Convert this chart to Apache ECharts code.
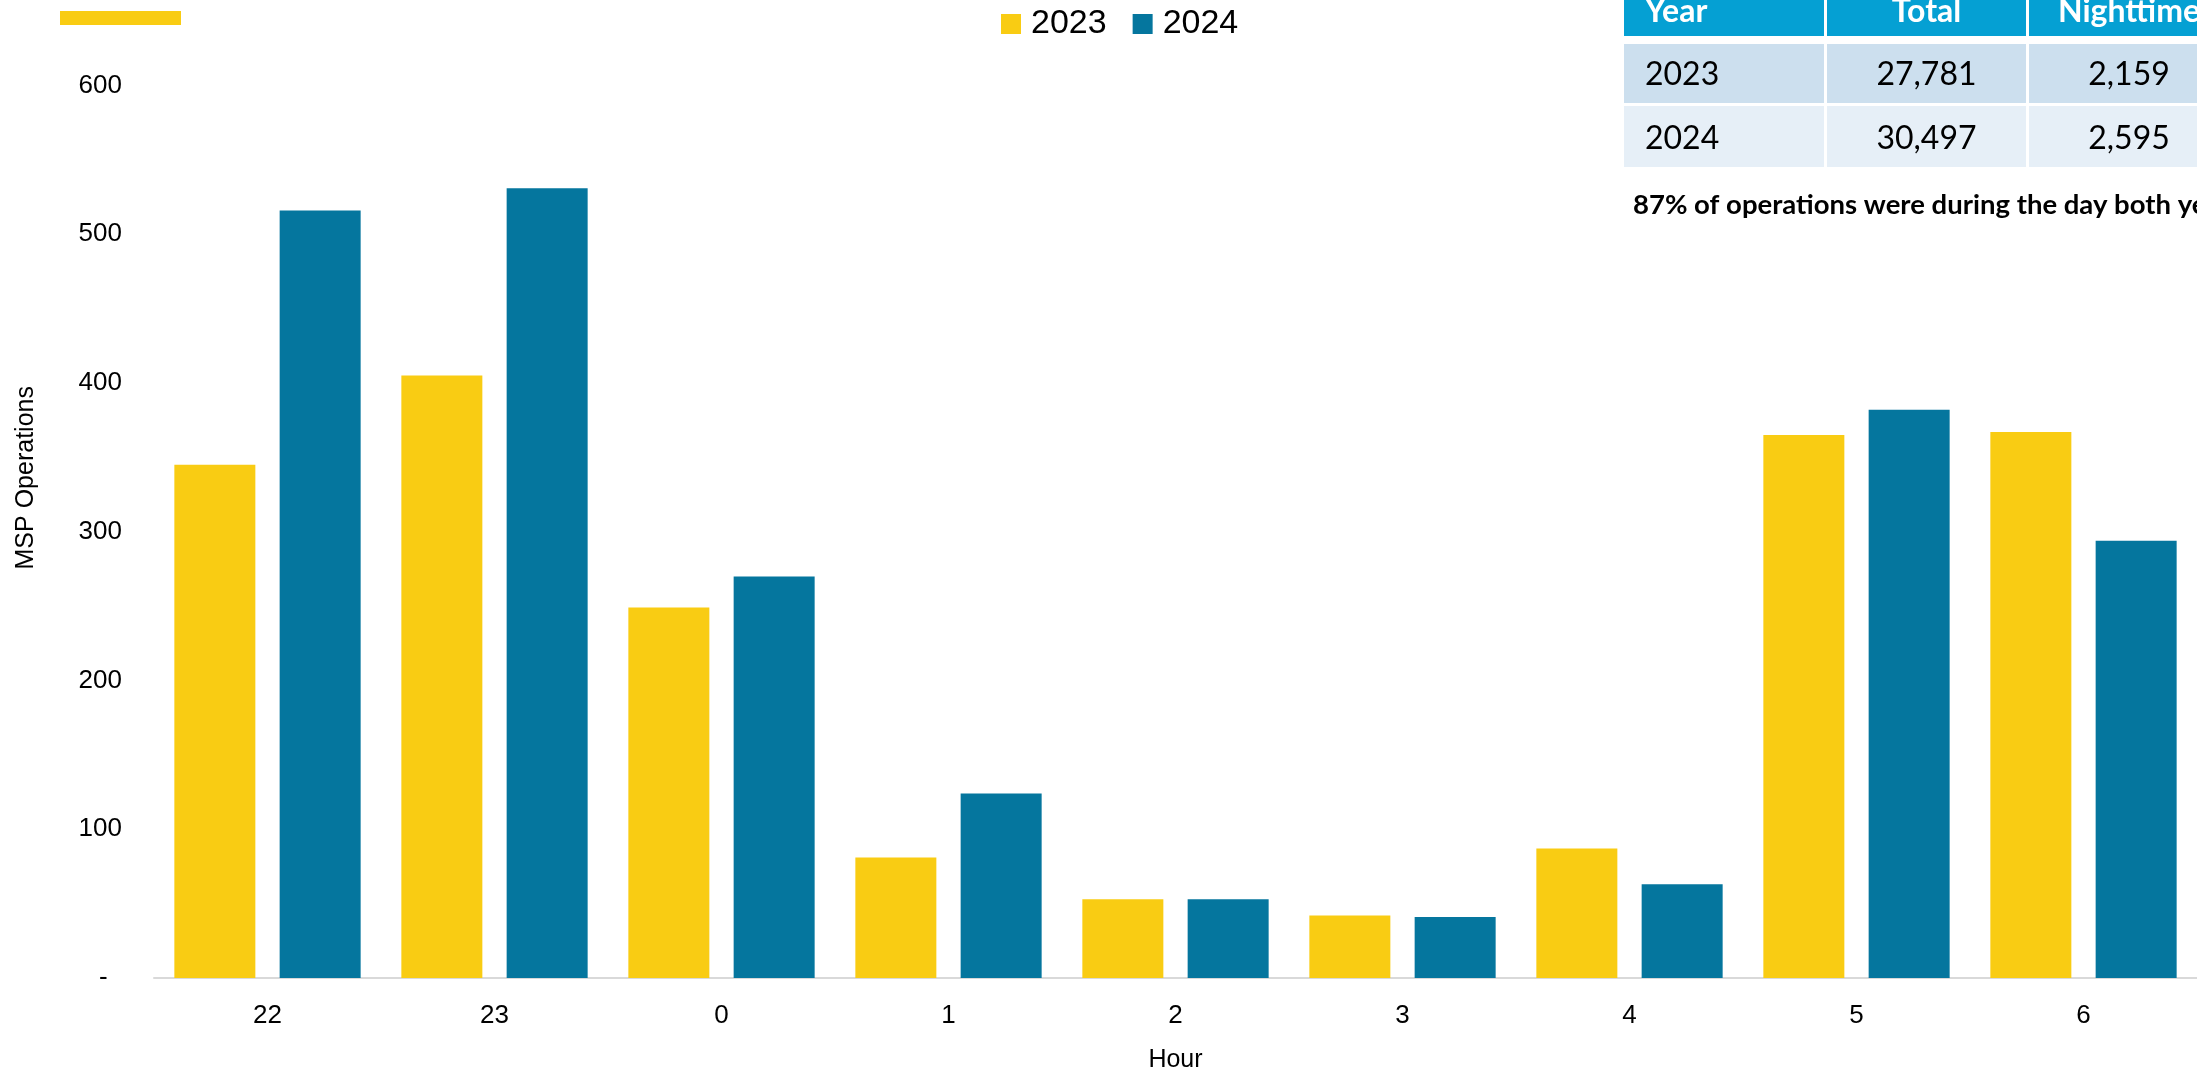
<!DOCTYPE html>
<html>
<head>
<meta charset="utf-8">
<script src="https://cdn.jsdelivr.net/npm/echarts@6/dist/echarts.min.js"></script>
<style>
html,body{margin:0;padding:0;background:#fff;overflow:hidden;}
#chart{width:2197px;height:1078px;}
</style>
</head>
<body>
<div id="chart"></div>
<script>
// ---- data ----
const hours = ['22', '23', '0', '1', '2', '3', '4', '5', '6'];
const ops2023 = [345, 405, 249, 81, 53, 42, 87, 365, 367];
const ops2024 = [516, 531, 270, 124, 53, 41, 63, 382, 294];
const seriesNames = ['2023', '2024'];
const yTicks = [0, 100, 200, 300, 400, 500, 600];
const tableHeader = ['Year', 'Total', 'Nighttime'];
const tableRows = [
  ['2023', '27,781', '2,159'],
  ['2024', '30,497', '2,595']
];
const noteText = '87% of operations were during the day both years.';

// ---- style ----
const YELLOW = '#F9CC13';
const BLUE = '#05769E';
const FONT = '"Liberation Sans", Arial, sans-serif';
const TFONT = 'Lato, "Open Sans", sans-serif';

const chart = echarts.init(document.getElementById('chart'), null, {renderer: 'canvas'});

// table graphics
const colX = [1624, 1827, 2029];
const colW = [200, 199, 200];
const rowY = [-23, 44, 106];
const rowH = [59, 59, 61];
const rowFill = ['#05A0D3', '#CCDFEE', '#E6EFF7'];
const textY = [12, 75, 138.5];
const graphics = [];
graphics.push({type: 'rect', left: 60, top: 11, shape: {width: 121, height: 14}, style: {fill: YELLOW}, silent: true});
const allRows = [tableHeader].concat(tableRows);
allRows.forEach((row, r) => {
  row.forEach((cell, c) => {
    graphics.push({
      type: 'rect', x: colX[c], y: rowY[r],
      shape: {x: 0, y: 0, width: colW[c], height: rowH[r]},
      style: {fill: rowFill[r]}, silent: true, z: 1
    });
    const isFirst = c === 0;
    graphics.push({
      type: 'text', x: isFirst ? colX[c] + 21 : colX[c] + colW[c] / 2, y: textY[r],
      style: {
        text: cell,
        fill: r === 0 ? '#ffffff' : '#000000',
        font: (r === 0 ? 'bold ' : '') + '32px ' + TFONT,
        textAlign: isFirst ? 'left' : 'center',
        textVerticalAlign: 'middle'
      }, silent: true, z: 2
    });
  });
});
graphics.push({
  type: 'text', x: 1633, y: 205,
  style: {text: noteText, fill: '#000', font: 'bold 27.5px ' + TFONT, textAlign: 'left', textVerticalAlign: 'middle'},
  silent: true, z: 2
});

const option = {
  animation: false,
  backgroundColor: '#ffffff',
  textStyle: {fontFamily: FONT},
  legend: {
    data: seriesNames,
    left: 1001, top: 7, padding: 0,
    itemWidth: 20, itemHeight: 20, itemGap: 26,
    icon: 'rect',
    textStyle: {fontSize: 34, color: '#000', fontFamily: FONT, padding: [0, 0, 0, 5]}
  },
  grid: {left: 154, top: 85.5, width: 2047.5, height: 896, containLabel: false},
  xAxis: {
    type: 'category',
    data: hours,
    name: 'Hour',
    nameLocation: 'middle',
    nameGap: 70,
    nameTextStyle: {fontSize: 25, color: '#000', fontFamily: FONT},
    axisLine: {show: true, lineStyle: {color: '#D9D9D9', width: 2}},
    axisTick: {show: false},
    axisLabel: {fontSize: 26, color: '#000', margin: 25, fontFamily: FONT}
  },
  yAxis: {
    type: 'value',
    min: yTicks[0], max: yTicks[yTicks.length - 1], interval: yTicks[1] - yTicks[0],
    name: 'MSP Operations',
    nameLocation: 'middle',
    nameGap: 115,
    nameTextStyle: {fontSize: 25, color: '#000', fontFamily: FONT, padding: [0, 0, 0, 108]},
    axisLine: {show: false},
    axisTick: {show: false},
    splitLine: {show: false},
    axisLabel: {
      fontSize: 26, color: '#000', margin: 32, fontFamily: FONT,
      formatter: v => v === 0 ? '-  ' : String(v)
    }
  },
  series: [
    {name: seriesNames[0], type: 'bar', data: ops2023, barWidth: 81, barGap: '30%', itemStyle: {color: YELLOW}},
    {name: seriesNames[1], type: 'bar', data: ops2024, barWidth: 81, barGap: '30%', itemStyle: {color: BLUE}}
  ],
  graphic: graphics
};
chart.setOption(option);
</script>
</body>
</html>
